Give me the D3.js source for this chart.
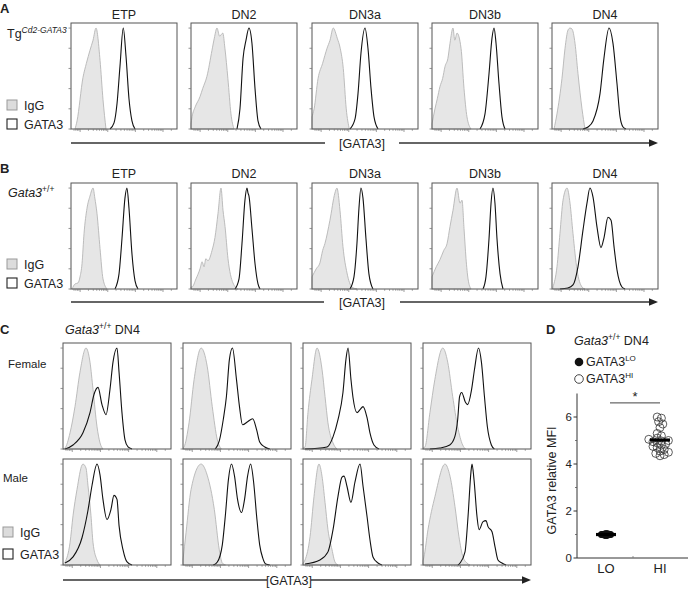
<!DOCTYPE html>
<html><head><meta charset="utf-8">
<script src="https://cdn.jsdelivr.net/npm/d3@7"></script>
<style>
body{margin:0;background:#fff}
svg{display:block}
text{font-family:"Liberation Sans",Arial,Helvetica,sans-serif;fill:#222}
</style>
</head><body><svg id="c" width="690" height="589"></svg>
<script>
// ---------------- DATA ----------------
const stageTitles = ["ETP","DN2","DN3a","DN3b","DN4"];
const histYTicks = [0,20,40,60,80,100];
const histLogDomain = [60, 250000];

// Panel A (Tg Cd2-GATA3): [position % of box width, % of max]
const A_ETP_IgG   = [[3.8,0],[5.7,8],[11.3,51],[14.5,65],[17.9,78],[20.8,88],[23.6,100],[27.4,68],[30.2,29],[33,0]];
const A_ETP_GATA3 = [[36.8,0],[40.6,6],[43.4,25],[46.2,62],[49.3,100],[51.9,72],[54.7,30],[57.5,8],[60.4,0]];
const A_DN2_IgG   = [[0,5],[1,12],[4,22],[8.5,32],[11,40],[15,52],[19.8,78],[22,90],[24.5,100],[27,92],[30,95],[32,80],[34.8,50],[37.7,15],[40.5,0]];
const A_DN2_GATA3 = [[43.4,0],[46.2,20],[49.1,70],[51.9,88],[54.7,100],[57.5,85],[60.4,40],[63.2,8],[66,0]];
const A_DN3a_IgG  = [[0,12],[2,20],[5.7,50],[10,65],[14.2,80],[17,88],[20,100],[23.8,90],[26.6,80],[29.5,60],[32.3,20],[35.2,0]];
const A_DN3a_GATA3= [[35.8,0],[40.6,10],[43.4,35],[46.2,75],[50,100],[52.8,80],[55.7,40],[58.5,12],[62.3,0]];
const A_DN3b_IgG  = [[0,5],[2.8,20],[5,30],[7.5,42],[10,50],[12.3,62],[15,70],[17,85],[19.8,100],[21.5,88],[23.6,95],[27.4,80],[30.2,40],[33,12],[36.8,0]];
const A_DN3b_GATA3= [[45.3,0],[50,15],[53.8,55],[56.6,90],[58.5,100],[60.4,85],[63.2,45],[66,12],[68.9,0]];
const A_DN4_IgG   = [[1.9,0],[4.7,15],[9.4,50],[12.3,80],[15.1,98],[17,100],[18.9,99],[21.7,85],[24.5,55],[28.3,20],[31.1,0]];
const A_DN4_GATA3 = [[29.2,0],[34,2],[38.7,8],[45.3,35],[49,70],[53.8,100],[57.5,85],[61.3,45],[64.2,12],[67,2],[69.8,0]];

// Panel B (Gata3 +/+)
const B_ETP_IgG   = [[1,0],[3.8,5],[6.6,6],[8.5,12],[10.4,25],[12.3,55],[15.1,80],[17.9,92],[20.8,100],[22.5,90],[24.5,75],[27.4,40],[30.2,10],[34,0]];
const B_ETP_GATA3 = [[41.5,0],[45.3,15],[48.1,50],[50.9,90],[52.8,100],[54.7,80],[57.5,35],[60.4,8],[63.2,0]];
const B_DN2_IgG   = [[0,2],[1,2],[4.7,10],[8.5,20],[10.5,27],[12.3,22],[14,30],[16,28],[19.8,38],[22.6,51],[25.5,75],[28.3,100],[30.2,78],[32.1,62],[34.9,30],[39.6,6],[44.3,0]];
const B_DN2_GATA3 = [[41.5,0],[45.3,10],[48.1,45],[50.9,88],[52.8,100],[53.8,95],[54.7,92],[57.5,60],[60.4,25],[63.2,5],[65.1,0]];
const B_DN3a_IgG  = [[0,12],[4,20],[7.5,26],[10,38],[12.2,45],[16.9,68],[21.6,95],[23.5,100],[26.4,78],[29.2,42],[33,16],[37.7,2],[42.4,0]];
const B_DN3a_GATA3= [[35.8,0],[39.6,12],[42.4,45],[44.3,80],[46.2,100],[48.1,90],[50.9,50],[53.7,15],[57.5,0]];
const B_DN3b_IgG  = [[0,12],[4,22],[7.5,29],[11,38],[14.2,45],[17,62],[19.8,78],[23.6,100],[26.4,85],[28.3,88],[30.2,60],[32.1,30],[34,10],[36.8,0]];
const B_DN3b_GATA3= [[48.1,0],[50.9,12],[53.8,50],[55.7,85],[57.5,100],[59.4,85],[61.3,50],[64.2,15],[67,0]];
const B_DN4_IgG   = [[0.9,2],[4.7,22],[7.5,55],[10.4,88],[14.2,100],[17,85],[19.8,55],[23.6,19],[28.3,2],[31.1,0]];
const B_DN4_GATA3 = [[7.5,0],[15,1],[19.8,4],[24.5,22],[29.2,58],[33,85],[35.8,100],[38.7,91],[42.5,61],[46.2,41],[49.1,51],[52.8,71],[55.7,68],[58.5,42],[61.3,19],[66,2],[68.9,0]];

// Panel C (Gata3 +/+ DN4), Female row and Male row
const C_F1_IgG   = [[0,0],[1.9,1],[6.5,16],[11.1,42],[15.7,76],[21.3,100],[25,86],[27.8,59],[31.5,22],[34.3,6],[37,0]];
const C_F1_GATA3 = [[1.9,0],[9.3,4],[18.5,16],[25,36],[28.7,54],[32.4,61],[36.1,44],[39.8,34],[43.5,59],[46.3,86],[50,100],[51.9,76],[54.6,36],[57.4,9],[60.2,2],[63.9,0]];
const C_F2_IgG   = [[0,1],[0.9,2],[5.6,26],[10.3,69],[16.8,100],[22.4,82],[27.1,42],[31.8,9],[35.5,0]];
const C_F2_GATA3 = [[29.9,0],[33.6,8],[37.4,30],[40.2,52],[43,89],[45.8,100],[49.5,69],[52.3,42],[55.1,24],[59.8,27],[64.5,30],[68.2,19],[71,7],[75.7,2],[80.4,0]];
const C_F3_IgG   = [[0,1],[1.9,2],[4.6,36],[8.3,69],[13,100],[17.6,79],[20.4,52],[23.1,26],[27.8,6],[31.5,0]];
const C_F3_GATA3 = [[1.9,0],[22.2,2],[27.8,12],[32.4,29],[37,56],[39.8,89],[41.7,100],[44.4,69],[46.3,51],[50,36],[52.8,39],[55.6,42],[59.3,31],[62,16],[65.7,4],[70.4,0]];
const C_F4_IgG   = [[0,1],[1.8,2],[6.4,36],[11,69],[18.3,100],[22.9,86],[27.5,52],[32.1,22],[36.7,4],[39.4,0]];
const C_F4_GATA3 = [[6.4,0],[15.6,1],[24.8,4],[29.4,12],[32.1,29],[33.9,52],[35.8,56],[39.4,46],[41.3,44],[45,59],[47.7,79],[51.4,100],[54.1,86],[56.9,52],[59.6,22],[63.3,4],[66.1,0]];
const C_M1_IgG   = [[0,1],[1.9,3],[6.5,22],[9.3,49],[13,75],[17.6,99],[18.5,100],[21.3,96],[23.1,79],[25.9,49],[27.8,22],[31.5,5],[34.3,0]];
const C_M1_GATA3 = [[1.9,2],[9.3,8],[17.6,27],[23.1,54],[26.9,79],[31.5,100],[34.3,89],[37,65],[40.7,45],[44.4,55],[47.2,69],[50,65],[51.9,39],[55.6,15],[59.3,3],[63.9,0]];
const C_M2_IgG   = [[0,5],[2.8,32],[7.5,75],[16.8,100],[22.4,89],[29,55],[33.6,15],[36.4,2],[39.3,0]];
const C_M2_GATA3 = [[28,0],[31.8,3],[36.4,20],[39.3,50],[42.1,85],[44.9,100],[47.7,88],[50.5,65],[54.2,52],[57,65],[59.8,88],[62.6,100],[65.4,82],[68.2,48],[71,20],[73.8,7],[76.6,1],[80.4,0]];
const C_M3_IgG   = [[0,2],[1.9,5],[6.5,28],[10.2,68],[14.8,100],[17.6,88],[20.4,62],[23.1,35],[26.9,15],[29.6,3],[32.4,0]];
const C_M3_GATA3 = [[1.9,1],[15.7,5],[23.1,13],[27.8,35],[32.4,68],[36.1,87],[38,88],[40.7,78],[44.4,62],[48.1,82],[52.8,100],[55.6,78],[59.3,48],[62,25],[64.8,8],[69.4,2],[73.1,0]];
const C_M4_IgG   = [[0,4],[0.9,8],[4.6,35],[11.1,68],[20.4,100],[25,88],[29.6,58],[33.3,28],[37,8],[40.7,2],[43.5,0]];
const C_M4_GATA3 = [[32.4,0],[34.3,2],[38.9,13],[41.7,48],[44.4,92],[45.4,100],[47.2,85],[50,48],[51.9,35],[55.6,43],[58.3,44],[60.2,38],[63.9,33],[66.7,18],[69.4,5],[73.1,2],[76.9,0]];

// Panel D
const D_categories = ["LO","HI"];
const D_yTicks = [0,2,4,6];
const D_yMinorTicks = [1,3,5];
const D_LO = [0.98,0.99,1.0,1.0,1.01,1.02,0.98,0.99,1.0,1.01,1.02,0.97,1.0,0.99,1.02,1.0,0.98,1.01,1.0,0.99,1.03,0.98,1.0];
const D_HI = [6.0,5.95,5.8,5.7,5.55,5.3,5.2,5.1,5.05,5.0,4.98,4.95,4.9,4.85,4.8,4.75,4.7,4.62,4.55,4.5,4.45,4.4,4.35];
const D_sigLevel = 6.6;

// ---------------- DRAW ----------------
const svg = d3.select("#c");
const FS = 12.5;

function hist(x0, y0, w, h, igg, gata) {
  const g = svg.append("g");
  const xs = d3.scaleLinear().domain([0,100]).range([x0, x0+w]);
  const ys = d3.scaleLinear().domain([0,105]).range([y0+h, y0]);
  const area = d3.area().x(d=>xs(d[0])).y0(ys(0)).y1(d=>ys(d[1])).curve(d3.curveMonotoneX);
  const line = d3.line().x(d=>xs(d[0])).y(d=>ys(d[1])).curve(d3.curveMonotoneX);
  g.append("path").attr("d", area(igg)).attr("fill","#e6e6e6").attr("stroke","#b5b5b5").attr("stroke-width",0.9);
  g.append("path").attr("d", line(gata)).attr("fill","none").attr("stroke","#111").attr("stroke-width",1.1);
  g.append("rect").attr("x",x0).attr("y",y0).attr("width",w).attr("height",h)
    .attr("fill","none").attr("stroke","#555").attr("stroke-width",1);
  histYTicks.forEach(t => g.append("line").attr("x1",x0-2.5).attr("x2",x0).attr("y1",ys(t)).attr("y2",ys(t))
    .attr("stroke","#777").attr("stroke-width",0.8));
  const ls = d3.scaleLog().domain(histLogDomain).range([x0+3, x0+w-3]);
  ls.ticks().forEach(t => {
    const lg = Math.log10(t);
    const major = Math.abs(lg - Math.round(lg)) < 1e-6;
    g.append("line").attr("x1",ls(t)).attr("x2",ls(t)).attr("y1",y0+h).attr("y2",y0+h+(major?3:1.8))
      .attr("stroke","#777").attr("stroke-width",0.7);
  });
}

function arrow(x1, x2, y, cx, gap) {
  const g = svg.append("g");
  g.append("line").attr("x1",x1).attr("x2",cx-gap/2).attr("y1",y).attr("y2",y).attr("stroke","#333").attr("stroke-width",1.4);
  g.append("line").attr("x1",cx+gap/2).attr("x2",x2-6).attr("y1",y).attr("y2",y).attr("stroke","#333").attr("stroke-width",1.4);
  g.append("path").attr("d",`M${x2},${y} L${x2-9},${y-3.8} L${x2-9},${y+3.8} Z`).attr("fill","#222");
  g.append("text").attr("x",cx).attr("y",y+4.5).attr("text-anchor","middle").attr("font-size",FS).text("[GATA3]");
}

function legend(x, y1, y2) {
  svg.append("rect").attr("x",x).attr("y",y1).attr("width",10).attr("height",10).attr("fill","#dcdcdc").attr("stroke","#999").attr("stroke-width",1);
  svg.append("rect").attr("x",x).attr("y",y2).attr("width",10).attr("height",10).attr("fill","#fff").attr("stroke","#222").attr("stroke-width",1.1);
  svg.append("text").attr("x",x+17).attr("y",y1+10).attr("font-size",FS).text("IgG");
  svg.append("text").attr("x",x+17).attr("y",y2+10).attr("font-size",FS).text("GATA3");
}

function panelLabel(x, y, t) {
  svg.append("text").attr("x",x).attr("y",y).attr("font-size",13).attr("font-weight","bold").text(t);
}

const abLefts = [71,191,312,432,552], abW = 106;
// Panel A
panelLabel(0,13,"A");
const A_data = [[A_ETP_IgG,A_ETP_GATA3],[A_DN2_IgG,A_DN2_GATA3],[A_DN3a_IgG,A_DN3a_GATA3],[A_DN3b_IgG,A_DN3b_GATA3],[A_DN4_IgG,A_DN4_GATA3]];
A_data.forEach((d,i)=>{
  hist(abLefts[i],23,abW,106,d[0],d[1]);
  svg.append("text").attr("x",abLefts[i]+abW/2).attr("y",19).attr("text-anchor","middle").attr("font-size",FS).text(stageTitles[i]);
});
{
  const t = svg.append("text").attr("x",7).attr("y",38).attr("font-size",FS);
  t.append("tspan").text("Tg");
  t.append("tspan").attr("dy",-5).attr("font-size",8.5).attr("font-style","italic").text("Cd2-GATA3");
}
legend(7,100,119);
arrow(71,658,143,362,74);

// Panel B
panelLabel(0,173,"B");
const B_data = [[B_ETP_IgG,B_ETP_GATA3],[B_DN2_IgG,B_DN2_GATA3],[B_DN3a_IgG,B_DN3a_GATA3],[B_DN3b_IgG,B_DN3b_GATA3],[B_DN4_IgG,B_DN4_GATA3]];
B_data.forEach((d,i)=>{
  hist(abLefts[i],183,abW,106,d[0],d[1]);
  svg.append("text").attr("x",abLefts[i]+abW/2).attr("y",178).attr("text-anchor","middle").attr("font-size",FS).text(stageTitles[i]);
});
{
  const t = svg.append("text").attr("x",8).attr("y",197).attr("font-size",FS);
  t.append("tspan").attr("font-style","italic").text("Gata3");
  t.append("tspan").attr("dy",-5).attr("font-size",8.5).text("+/+");
}
legend(7,259,278);
arrow(71,658,302,362,76);

// Panel C
panelLabel(0,334,"C");
{
  const t = svg.append("text").attr("x",65).attr("y",334).attr("font-size",FS);
  t.append("tspan").attr("font-style","italic").text("Gata3");
  t.append("tspan").attr("dy",-5).attr("font-size",8.5).text("+/+");
  t.append("tspan").attr("dy",5).text(" DN4");
}
const cLefts = [63,183,303,423], cW = 108;
const C_female = [[C_F1_IgG,C_F1_GATA3],[C_F2_IgG,C_F2_GATA3],[C_F3_IgG,C_F3_GATA3],[C_F4_IgG,C_F4_GATA3]];
const C_male = [[C_M1_IgG,C_M1_GATA3],[C_M2_IgG,C_M2_GATA3],[C_M3_IgG,C_M3_GATA3],[C_M4_IgG,C_M4_GATA3]];
C_female.forEach((d,i)=>hist(cLefts[i],343,cW,106,d[0],d[1]));
C_male.forEach((d,i)=>hist(cLefts[i],459,cW,106,d[0],d[1]));
svg.append("text").attr("x",8).attr("y",368).attr("font-size",11.5).text("Female");
svg.append("text").attr("x",3).attr("y",482).attr("font-size",11.5).text("Male");
legend(3,527,549);
arrow(63,531,580,289,44);

// Panel D
panelLabel(546,334,"D");
{
  const t = svg.append("text").attr("x",574).attr("y",345).attr("font-size",FS);
  t.append("tspan").attr("font-style","italic").text("Gata3");
  t.append("tspan").attr("dy",-5).attr("font-size",8.5).text("+/+");
  t.append("tspan").attr("dy",5).text(" DN4");
}
svg.append("circle").attr("cx",579).attr("cy",362).attr("r",4.3).attr("fill","#111");
svg.append("circle").attr("cx",579).attr("cy",379).attr("r",4.3).attr("fill","none").attr("stroke","#333").attr("stroke-width",0.9);
[["LO",366],["HI",383]].forEach(([s,y])=>{
  const t = svg.append("text").attr("x",586).attr("y",y).attr("font-size",FS);
  t.append("tspan").text("GATA3");
  t.append("tspan").attr("dy",-5).attr("font-size",8).text(s);
});

const dy = d3.scaleLinear().domain([0,7]).range([558,393.5]);
const dx = d3.scalePoint().domain(D_categories).range([606,660]);
const axX = 577;
svg.append("line").attr("x1",axX).attr("x2",axX).attr("y1",dy(7)).attr("y2",dy(0)).attr("stroke","#333").attr("stroke-width",1);
svg.append("line").attr("x1",axX).attr("x2",688).attr("y1",dy(0)).attr("y2",dy(0)).attr("stroke","#333").attr("stroke-width",1);
D_yTicks.forEach(t=>{
  svg.append("line").attr("x1",axX-3.5).attr("x2",axX).attr("y1",dy(t)).attr("y2",dy(t)).attr("stroke","#333");
  svg.append("text").attr("x",axX-5).attr("y",dy(t)+4).attr("text-anchor","end").attr("font-size",11.5).attr("fill","#333").text(t);
});
D_yMinorTicks.forEach(t=>{
  svg.append("line").attr("x1",axX-2).attr("x2",axX).attr("y1",dy(t)).attr("y2",dy(t)).attr("stroke","#555").attr("stroke-width",0.8);
});
{
  const midX = (dx("LO")+dx("HI"))/2;
  svg.append("line").attr("x1",midX).attr("x2",midX).attr("y1",dy(0)).attr("y2",dy(0)-2).attr("stroke","#777").attr("stroke-width",0.8);
}
D_categories.forEach(c=>{
  svg.append("text").attr("x",dx(c)).attr("y",573).attr("text-anchor","middle").attr("font-size",13).text(c);
});
svg.append("text").attr("transform",`translate(556,${dy(3.3)}) rotate(-90)`).attr("text-anchor","middle").attr("font-size",FS).text("GATA3 relative MFI");

function dodge(values, cx, minDist, step) {
  const placed = [];
  const sorted = values.slice().sort((a,b)=>a-b);
  sorted.forEach(v=>{
    const y = dy(v);
    let x = cx;
    for (let k=0;k<80;k++){
      const off = k===0?0:(k%2?1:-1)*Math.ceil(k/2)*step;
      x = cx+off;
      if (placed.every(q=>Math.hypot(q.x-x,q.y-y)>=minDist)) break;
    }
    placed.push({x,y,v});
  });
  return placed;
}
const loPts = dodge(D_LO, dx("LO"), 0.55, 0.5);
const hiPts = dodge(D_HI, dx("HI"), 4.2, 1.4);
svg.selectAll(".lo").data(loPts).enter().append("circle").attr("cx",d=>d.x).attr("cy",d=>d.y).attr("r",3.6).attr("fill","#111");
svg.selectAll(".hi").data(hiPts).enter().append("circle").attr("cx",d=>d.x).attr("cy",d=>d.y).attr("r",4).attr("fill","none").attr("stroke","#333").attr("stroke-width",0.8);
[["LO",D_LO],["HI",D_HI]].forEach(([c,vals])=>{
  const m = d3.mean(vals);
  svg.append("line").attr("x1",dx(c)-10).attr("x2",dx(c)+10).attr("y1",dy(m)).attr("y2",dy(m)).attr("stroke","#000").attr("stroke-width",3.2);
});
svg.append("line").attr("x1",dx("LO")+4).attr("x2",dx("HI")).attr("y1",dy(D_sigLevel)).attr("y2",dy(D_sigLevel)).attr("stroke","#444").attr("stroke-width",1);
svg.append("text").attr("x",(dx("LO")+4+dx("HI"))/2).attr("y",dy(D_sigLevel)-2).attr("text-anchor","middle").attr("font-size",13).text("*");
</script></body></html>
